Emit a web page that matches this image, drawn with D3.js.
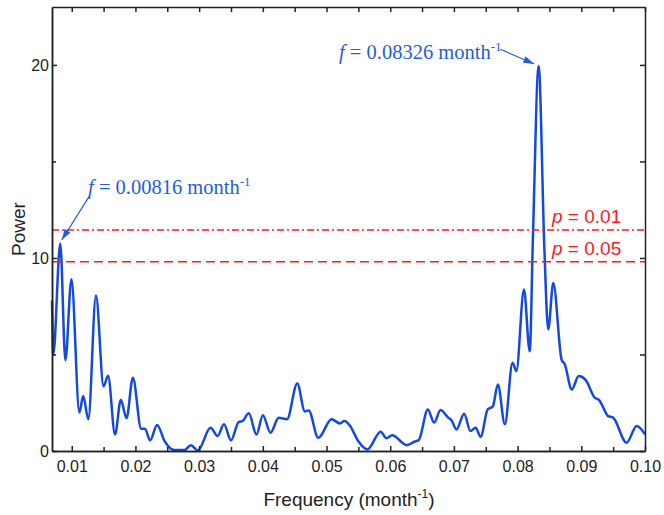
<!DOCTYPE html>
<html>
<head>
<meta charset="utf-8">
<script src="https://cdn.jsdelivr.net/npm/d3@7"></script>
<style>
  body { margin: 0; background: #fff; }
  svg { display: block; }
  .axis text { font-family: "Liberation Sans", Arial, sans-serif; font-size: 16px; fill: #222; }
  .axis path, .axis line { stroke: #222; stroke-width: 1.5px; }
</style>
</head>
<body>
<div id="chart"></div>
<script>
// Periodogram values
const freq = [0.0069, 0.0071, 0.0082, 0.0090, 0.00995, 0.0112, 0.0118, 0.0126, 0.0138, 0.0150,
  0.0157, 0.0168, 0.0177, 0.0186, 0.0196, 0.0209, 0.0215, 0.0223, 0.0234, 0.0246,
  0.0261, 0.0277, 0.0287, 0.0298, 0.0318, 0.0329, 0.0339, 0.0350, 0.0362, 0.0368,
  0.0378, 0.0390, 0.0400, 0.0412, 0.0425, 0.0438, 0.0454, 0.0466, 0.0472, 0.0487,
  0.0508, 0.0521, 0.0528, 0.0537, 0.0550, 0.0564, 0.0585, 0.0594, 0.0603, 0.0626,
  0.0638, 0.0645, 0.0659, 0.0669, 0.0679, 0.0691, 0.0696, 0.0704, 0.0716, 0.0726,
  0.0734, 0.0742, 0.0753, 0.0761, 0.0769, 0.0780, 0.0792, 0.0798, 0.0810, 0.0819,
  0.0824, 0.0833, 0.0842, 0.0848, 0.0856, 0.0869, 0.0874, 0.0885, 0.0896, 0.0907,
  0.0921, 0.0928, 0.0942, 0.0950, 0.0971, 0.0987, 0.1000];
const power = [7.8, 5.0, 10.75, 4.7, 8.9, 2.0, 2.85, 1.65, 8.05, 3.35,
  3.9, 0.85, 2.65, 1.7, 3.8, 1.15, 1.15, 0.55, 1.35, 0.5,
  0.05, 0.05, 0.3, 0.03, 1.2, 0.78, 1.38, 0.55, 1.5, 1.55,
  1.95, 0.85, 1.85, 0.95, 1.72, 1.65, 3.5, 2.05, 2.1, 0.68,
  1.64, 1.43, 1.55, 1.3, 0.5, 0.08, 1.0, 0.66, 0.82, 0.3,
  0.48, 0.57, 2.15, 1.47, 2.12, 1.73, 1.6, 1.12, 1.93, 1.03,
  1.2, 0.74, 2.16, 2.3, 3.45, 1.38, 4.57, 4.14, 8.37, 5.17,
  11.0, 19.95, 10.5, 6.3, 8.7, 4.74, 4.49, 3.19, 3.88, 3.67,
  2.76, 2.64, 1.81, 1.73, 0.43, 1.29, 0.86];

const xMajor = [0.01, 0.02, 0.03, 0.04, 0.05, 0.06, 0.07, 0.08, 0.09, 0.10];
const xMinor = [0.015, 0.025, 0.035, 0.045, 0.055, 0.065, 0.075, 0.085, 0.095];
const yMajor = [0, 10, 20];
const yMinor = [5, 15];

// significance levels
const sigLevels = [11.45, 9.8];
const sigNames = ["0.01", "0.05"];
const sigLabelPos = [[0.0854, 11.83], [0.0854, 10.16]];

// peak annotations (data units): text start, arrow tail, arrow tip
const peakNames = ["0.00816", "0.08326"];
const peakTextPos = [[0.01256, 13.32], [0.05196, 20.31]];
const peakArrowFrom = [[0.01272, 13.18], [0.07731, 20.81]];
const peakArrowTo = [[0.00843, 10.93], [0.08261, 20.05]];

const width = 664, height = 515;
const margin = { top: 7, right: 19, bottom: 64, left: 52 };
const innerW = width - margin.left - margin.right;
const innerH = height - margin.top - margin.bottom;

const svg = d3.select("#chart").append("svg")
  .attr("width", width)
  .attr("height", height);

svg.append("defs").append("marker")
  .attr("id", "head")
  .attr("markerUnits", "userSpaceOnUse")
  .attr("markerWidth", 11)
  .attr("markerHeight", 7)
  .attr("refX", 11)
  .attr("refY", 3.5)
  .attr("orient", "auto")
  .append("path")
  .attr("d", "M0,0 L11,3.5 L0,7 Z")
  .attr("fill", "#1f5ee0");

const g = svg.append("g")
  .attr("transform", `translate(${margin.left},${margin.top})`);

const x = d3.scaleLinear().domain([0.0069, 0.1]).range([0, innerW]);
const y = d3.scaleLinear().domain([0, 23]).range([innerH, 0]);

// curve
const data = freq.map((f, i) => ({ f: f, p: power[i] }));
const line = d3.line()
  .x(d => x(d.f))
  .y(d => y(d.p))
  .curve(d3.curveMonotoneX);

g.append("path")
  .datum(data)
  .attr("d", line)
  .attr("fill", "none")
  .attr("stroke", "#1449e0")
  .attr("stroke-width", 2.5)
  .attr("stroke-linejoin", "round");

// significance lines
const dashes = ["7,3,2,3", "9,5"];
sigLevels.forEach((lv, i) => {
  g.append("line")
    .attr("x1", 0).attr("x2", innerW)
    .attr("y1", y(lv)).attr("y2", y(lv))
    .attr("stroke", "#ff1a1a")
    .attr("stroke-width", 1.5)
    .attr("stroke-dasharray", dashes[i]);

  const t = g.append("text")
    .attr("x", x(sigLabelPos[i][0]))
    .attr("y", y(sigLabelPos[i][1]))
    .attr("fill", "#ff1a1a")
    .style("font-family", "'Liberation Sans', Arial, sans-serif")
    .style("font-size", "19px");
  t.append("tspan").style("font-style", "italic").text("p");
  t.append("tspan").text(" = " + sigNames[i]);
});

// axes
g.append("g").attr("class", "axis")
  .attr("transform", `translate(0,${innerH})`)
  .call(d3.axisBottom(x).tickValues(xMajor).tickFormat(d3.format(".2f"))
    .tickSizeInner(-5).tickSizeOuter(0).tickPadding(10));
g.append("g").attr("class", "axis")
  .attr("transform", `translate(0,${innerH})`)
  .call(d3.axisBottom(x).tickValues(xMinor).tickFormat("")
    .tickSizeInner(-4).tickSizeOuter(0));
g.append("g").attr("class", "axis")
  .call(d3.axisTop(x).tickValues(xMajor.concat(xMinor)).tickFormat("")
    .tickSizeInner(-5).tickSizeOuter(0));

g.append("g").attr("class", "axis")
  .call(d3.axisLeft(y).tickValues(yMajor).tickFormat(d3.format("d"))
    .tickSizeInner(-5).tickSizeOuter(0).tickPadding(3));
g.append("g").attr("class", "axis")
  .call(d3.axisLeft(y).tickValues(yMinor).tickFormat("")
    .tickSizeInner(-4).tickSizeOuter(0));
g.append("g").attr("class", "axis")
  .attr("transform", `translate(${innerW},0)`)
  .call(d3.axisRight(y).tickValues(yMajor.concat(yMinor)).tickFormat("")
    .tickSizeInner(-5).tickSizeOuter(0));

// peak annotations
peakNames.forEach((name, i) => {
  g.append("line")
    .attr("x1", x(peakArrowFrom[i][0])).attr("y1", y(peakArrowFrom[i][1]))
    .attr("x2", x(peakArrowTo[i][0])).attr("y2", y(peakArrowTo[i][1]))
    .attr("stroke", "#1f5ee0")
    .attr("stroke-width", 1.2)
    .attr("marker-end", "url(#head)");

  const t = g.append("text")
    .attr("x", x(peakTextPos[i][0]))
    .attr("y", y(peakTextPos[i][1]))
    .attr("fill", "#1f5ee0")
    .style("font-family", "'Liberation Serif', 'Times New Roman', serif")
    .style("font-size", "20.5px");
  t.append("tspan").style("font-style", "italic").text("f");
  t.append("tspan").text(" = " + name + " month");
  t.append("tspan").attr("dy", -8).style("font-size", "13px").text("-1");
});

// axis titles
const xt = svg.append("text")
  .attr("x", 349)
  .attr("y", 506)
  .attr("text-anchor", "middle")
  .attr("fill", "#222")
  .style("font-family", "'Liberation Sans', Arial, sans-serif")
  .style("font-size", "19px");
xt.append("tspan").text("Frequency (month");
xt.append("tspan").attr("dy", -8).style("font-size", "12px").text("-1");
xt.append("tspan").attr("dy", 8).text(")");

svg.append("text")
  .attr("transform", "translate(25,229) rotate(-90)")
  .attr("text-anchor", "middle")
  .attr("fill", "#222")
  .style("font-family", "'Liberation Sans', Arial, sans-serif")
  .style("font-size", "19px")
  .text("Power");
</script>
</body>
</html>
